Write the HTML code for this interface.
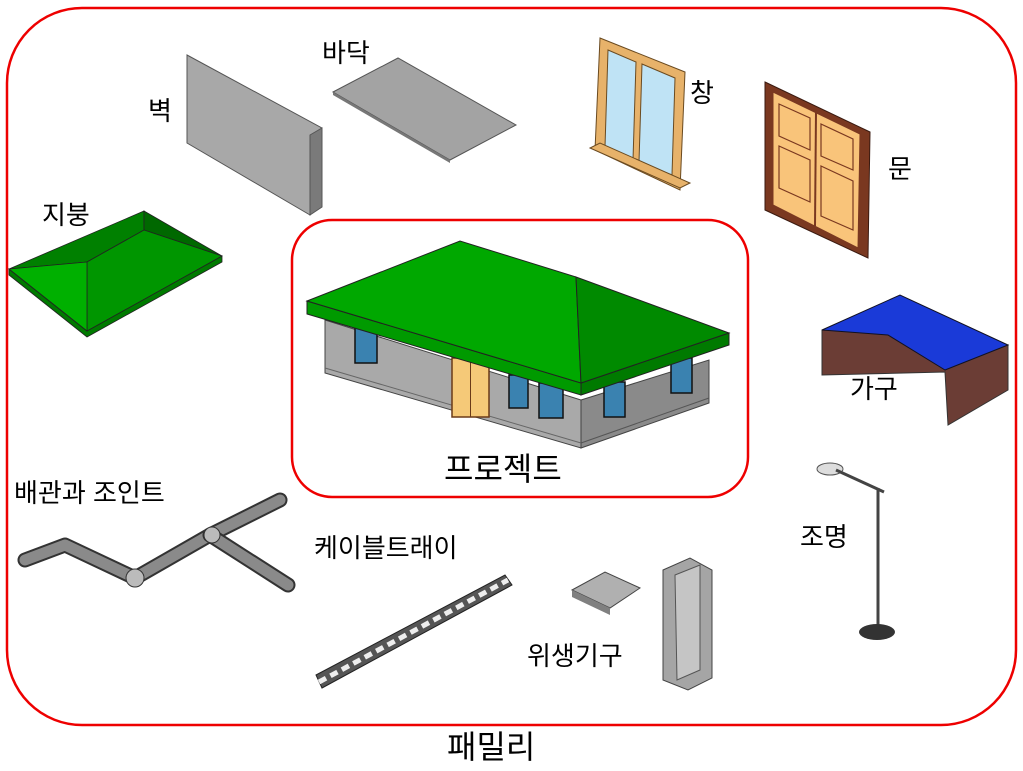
<!DOCTYPE html>
<html><head><meta charset="utf-8"><style>
html,body{margin:0;padding:0;background:#fff;}
svg{display:block;}
text{font-family:"Liberation Sans","Noto Sans CJK KR",sans-serif;fill:#000;}
</style></head><body>
<svg width="1023" height="771" viewBox="0 0 1023 771" xmlns="http://www.w3.org/2000/svg">
<rect x="7" y="8" width="1009" height="717" rx="75" fill="none" stroke="#e00" stroke-width="2.5"/>
<rect x="292" y="220" width="456" height="277" rx="40" fill="none" stroke="#e00" stroke-width="2.5"/>

<!-- wall -->
<polygon points="187,55 322,128 310,215 187,143" fill="#a8a8a8" stroke="#555" stroke-width="1"/>
<polygon points="310,135 322,128 322,207 310,215" fill="#7a7a7a" stroke="#555" stroke-width="1"/>
<!-- floor -->
<polygon points="333,92 398,58 516,125 450,160" fill="#a3a3a3" stroke="#555"/>
<polygon points="333,92 450,160 450,163 333,95" fill="#777"/>
<!-- small roof -->
<polygon points="9,269 87,331 222,256 222,262 87,337 9,275" fill="#007a00" stroke="#222" stroke-width="0.8"/>
<polygon points="9,269 144,211 144,230 87,262" fill="#008000" stroke="#222" stroke-width="0.8"/>
<polygon points="144,211 222,256 144,230" fill="#006800" stroke="#222" stroke-width="0.8"/>
<polygon points="87,262 144,230 222,256 87,331" fill="#009600" stroke="#222" stroke-width="0.8"/>
<polygon points="9,269 87,262 87,331" fill="#00b000" stroke="#222" stroke-width="0.8"/>
<!-- window -->
<polygon points="600,38 685,72 680,190 595,150" fill="#e7b26a" stroke="#6a4a20"/>
<polygon points="608,50 636,62 633,160 605,147" fill="#bfe3f5" stroke="#6a4a20"/>
<polygon points="642,64 675,78 672,175 639,162" fill="#bfe3f5" stroke="#6a4a20"/>
<polygon points="590,148 680,188 690,183 600,143" fill="#e7b26a" stroke="#6a4a20"/>
<!-- door -->
<polygon points="765,82 870,132 868,258 765,210" fill="#7a3820" stroke="#3a1a10"/>
<polygon points="773,92 860,134 858,248 773,205" fill="#f9c47a" stroke="#7a3820"/>
<line x1="816" y1="112" x2="815" y2="226" stroke="#7a3820" stroke-width="2"/>
<g fill="none" stroke="#7a3820" stroke-width="1.2">
<polygon points="779,104 810,118 810,150 779,136"/><polygon points="821,124 853,139 853,170 821,156"/>
<polygon points="779,146 810,160 810,202 779,188"/><polygon points="821,166 853,181 853,230 821,216"/>
</g>
<!-- furniture -->
<polygon points="822,330 822,375 945,372 948,425 1008,390 1008,345 945,370 888,330" fill="#6b3d35" stroke="#333"/>
<polygon points="822,330 900,295 1008,345 945,370 888,335" fill="#1a3ad8" stroke="#112"/>
<!-- house -->
<polygon points="325,320 581,400 581,448 325,373" fill="#a9a9a9" stroke="#444"/>
<polygon points="581,400 709,360 709,403 581,448" fill="#8a8a8a" stroke="#444"/>
<line x1="325" y1="368" x2="581" y2="443" stroke="#666"/>
<line x1="581" y1="443" x2="709" y2="398" stroke="#555"/>
<g fill="#3a82b0" stroke="#111" stroke-width="1.5">
<rect x="355" y="328" width="22" height="35"/><rect x="509" y="375" width="19" height="33"/><rect x="539" y="383" width="24" height="35"/>
<rect x="604" y="382" width="21" height="35"/><rect x="671" y="358" width="21" height="35"/>
</g>
<rect x="452" y="358" width="37" height="59" fill="#f5c978" stroke="#6a3a18" stroke-width="1.5"/>
<line x1="470.5" y1="358" x2="470.5" y2="417" stroke="#6a3a18"/>
<polygon points="307,301 581,383 581,395 307,314" fill="#009a00" stroke="#222"/>
<polygon points="581,383 729,333 729,345 581,395" fill="#007a00" stroke="#222"/>
<polygon points="307,301 460,241 576,277 581,383" fill="#00a800" stroke="#222"/>
<polygon points="576,277 729,333 581,383" fill="#008a00" stroke="#222"/>
<!-- pipe -->
<polyline points="25,560 65,545 135,578 210,535 280,500" fill="none" stroke="#333" stroke-width="15" stroke-linejoin="round" stroke-linecap="round"/>
<polyline points="25,560 65,545 135,578 210,535 280,500" fill="none" stroke="#8a8a8a" stroke-width="11" stroke-linejoin="round" stroke-linecap="round"/>
<line x1="210" y1="535" x2="288" y2="585" stroke="#333" stroke-width="15" stroke-linecap="round"/>
<line x1="210" y1="535" x2="288" y2="585" stroke="#8a8a8a" stroke-width="11" stroke-linecap="round"/>
<circle cx="135" cy="578" r="9" fill="#bbb" stroke="#333"/>
<circle cx="212" cy="535" r="8" fill="#bbb" stroke="#333"/>
<!-- cable tray -->
<polygon points="316,675 505,575 512,585 322,688" fill="#555" stroke="#222"/>
<line x1="319" y1="682" x2="508" y2="580" stroke="#eee" stroke-width="5" stroke-dasharray="8,5"/>
<!-- lamp -->
<ellipse cx="830" cy="469" rx="13" ry="6" fill="#ddd" stroke="#555"/>
<line x1="836" y1="470" x2="884" y2="492" stroke="#444" stroke-width="3"/>
<line x1="878" y1="488" x2="878" y2="628" stroke="#444" stroke-width="3"/>
<ellipse cx="877" cy="632" rx="18" ry="8" fill="#333"/>
<!-- sink -->
<polygon points="572,590 605,572 640,588 610,608" fill="#b0b0b0" stroke="#444"/>
<polygon points="572,590 610,608 610,615 572,597" fill="#808080"/>
<!-- urinal -->
<polygon points="663,570 690,558 712,570 712,678 688,690 663,680" fill="#a5a5a5" stroke="#444"/>
<polygon points="675,575 700,565 700,670 677,680" fill="#c5c5c5" stroke="#555"/>

<g font-size="26">
<text x="148" y="120">벽</text>
<text x="322" y="62">바닥</text>
<text x="690" y="102">창</text>
<text x="888" y="178">문</text>
<text x="42" y="224">지붕</text>
<text x="850" y="398">가구</text>
<text x="14" y="502">배관과 조인트</text>
<text x="314" y="557">케이블트래이</text>
<text x="800" y="546">조명</text>
<text x="527" y="665">위생기구</text>
</g>
<text x="444" y="480" font-size="32">프로젝트</text>
<text x="447" y="758" font-size="32">패밀리</text>
</svg>
</body></html>
